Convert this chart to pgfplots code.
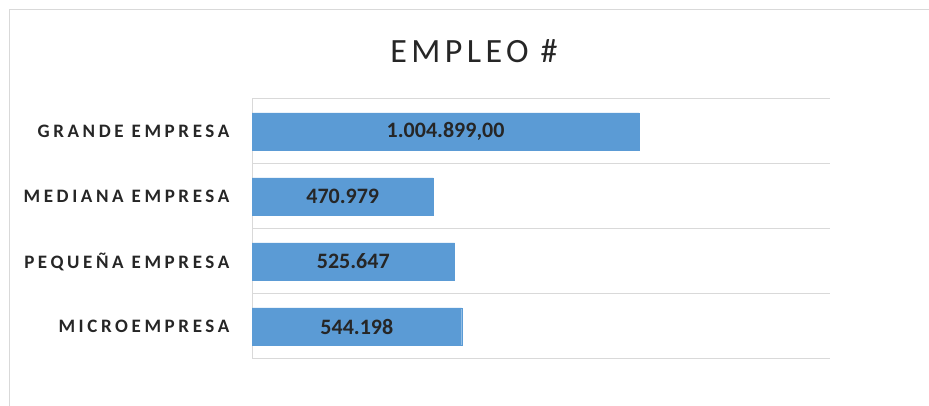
\documentclass[border=0pt]{standalone}
\usepackage{pgfplots}
\pgfplotsset{compat=1.18}
\usepackage{pgfplotstable}
\usepackage{fontspec}
\setmainfont{Carlito}
\newfontfamily\titlefont[LetterSpace=13]{Carlito}
\newfontfamily\catfont[LetterSpace=19]{Carlito}
\definecolor{barblue}{HTML}{5B9BD5}
\definecolor{gridgray}{HTML}{D9D9D9}
\definecolor{txt}{HTML}{262626}

\pgfplotstableread{
y x label
0 1004899 1.004.899,00
1 470979 470.979
2 525647 525.647
3 544198 544.198
}\data

\begin{document}
\begin{tikzpicture}[x=1pt,y=1pt]
\useasboundingbox (0,0) rectangle (929,406);
\draw[gridgray, line width=1pt] (9,0) -- (9,396) -- (929,396);
\node[anchor=base, text=txt, font=\titlefont\fontsize{34}{36}\selectfont] at (474,343.3) {EMPLEO \#};
\begin{axis}[
  at={(252pt,47pt)}, anchor=south west,
  width=578pt, height=260pt, scale only axis,
  xmin=0, xmax=1500000, ymin=-0.5, ymax=3.5, y dir=reverse,
  axis x line=none,
  axis y line=left, y axis line style={draw=gridgray, line width=1pt, -},
  ytick={0,1,2,3},
  yticklabels={GRANDE EMPRESA, MEDIANA EMPRESA, PEQUEÑA EMPRESA, MICROEMPRESA},
  ytick style={draw=none},
  yticklabel style={font=\catfont\bfseries\fontsize{19}{21}\selectfont, text=txt, anchor=east, xshift=-17pt},
  minor ytick={-0.5,0.5,1.5,2.5,3.5},
  yminorgrids, minor grid style={gridgray, line width=1pt},
  clip=false,
]
\addplot[xbar, bar width=37pt, fill=barblue, draw=barblue] table[x=x,y=y] {\data};
\addplot[only marks, mark=none, nodes near coords, point meta=explicit symbolic,
  nodes near coords style={anchor=center, font=\bfseries\fontsize{22}{24}\selectfont, text=txt}]
  table[x expr=\thisrow{x}/2, y=y, meta=label] {\data};
\end{axis}
\end{tikzpicture}
\end{document}
